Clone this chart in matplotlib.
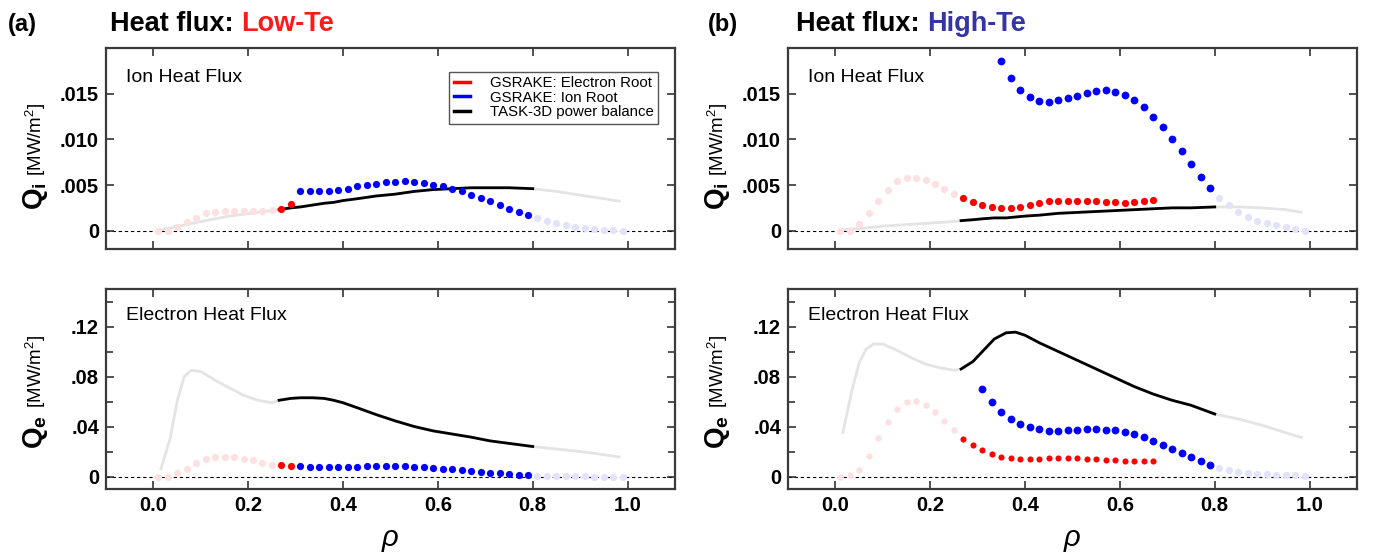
"""
plot.py
Heat flux comparison: GSRAKE roots vs TASK-3D power balance
"""

import matplotlib
matplotlib.use("Agg")
import matplotlib.pyplot as plt
from matplotlib.lines import Line2D
from matplotlib.ticker import FixedLocator, FuncFormatter
from matplotlib import font_manager

# Fonts
names = {f.name for f in font_manager.fontManager.ttflist}
NARROW = "Liberation Sans Narrow" if "Liberation Sans Narrow" in names else "Liberation Sans"
plt.rcParams["font.family"] = ["Liberation Sans", "DejaVu Sans"]
plt.rcParams["mathtext.fontset"] = "custom"
plt.rcParams["mathtext.rm"] = "Liberation Sans"
plt.rcParams["mathtext.bf"] = "Liberation Sans:bold"
plt.rcParams["mathtext.it"] = "Liberation Sans:italic"

# Colours
RED = "#ff0000"
BLUE = "#0000ff"
PINK_FADED = "#fde0e0"
BLUE_FADED = "#e2e2fb"
GREY = "#e4e4e4"

# ---- rho grid for GSRAKE points ----
RHO_CORE = [0.01, 0.03, 0.05, 0.07, 0.09, 0.11, 0.13, 0.15, 0.17, 0.19, 0.21, 0.23, 0.25]
RHO_EDGE = [0.81, 0.83, 0.85, 0.87, 0.89, 0.91, 0.93, 0.95, 0.97, 0.99]
RHO_A_EROOT = [0.27, 0.29]
RHO_A_IROOT = [0.31, 0.33, 0.35, 0.37, 0.39, 0.41, 0.43, 0.45, 0.47, 0.49, 0.51, 0.53,
               0.55, 0.57, 0.59, 0.61, 0.63, 0.65, 0.67, 0.69, 0.71, 0.73, 0.75, 0.77, 0.79]
RHO_B_EROOT = [0.27, 0.29, 0.31, 0.33, 0.35, 0.37, 0.39, 0.41, 0.43, 0.45, 0.47, 0.49,
               0.51, 0.53, 0.55, 0.57, 0.59, 0.61, 0.63, 0.65, 0.67]
RHO_B_IROOT_I = [0.35, 0.37, 0.39, 0.41, 0.43, 0.45, 0.47, 0.49, 0.51, 0.53, 0.55, 0.57,
                 0.59, 0.61, 0.63, 0.65, 0.67, 0.69, 0.71, 0.73, 0.75, 0.77, 0.79]
RHO_B_IROOT_E = [0.31, 0.33] + RHO_B_IROOT_I

# ---- (a) Low-Te, ion heat flux ----
QI_A_CORE = [0.0, 0.0, 0.0004, 0.0009, 0.0014, 0.0019, 0.0021, 0.0022, 0.0022, 0.0022,
             0.0022, 0.0022, 0.0023]
QI_A_EROOT = [0.0024, 0.0029]
QI_A_IROOT = [0.0044, 0.0043, 0.0043, 0.0043, 0.0045, 0.0046, 0.0049, 0.0050, 0.0051,
              0.0053, 0.0053, 0.0054, 0.0053, 0.0052, 0.0050, 0.0049, 0.0046, 0.0043,
              0.0039, 0.0036, 0.0032, 0.0028, 0.0024, 0.0021, 0.0017]
QI_A_EDGE = [0.0014, 0.0011, 0.0008, 0.0006, 0.0004, 0.0003, 0.0002, 0.0001, 0.0001, 0.0]

# ---- (a) Low-Te, electron heat flux ----
QE_A_CORE = [0.0, 0.0, 0.0027, 0.006, 0.011, 0.014, 0.016, 0.016, 0.0155, 0.014, 0.013,
             0.011, 0.0096]
QE_A_EROOT = [0.009, 0.0085]
QE_A_IROOT = [0.0083, 0.0077, 0.0075, 0.0075, 0.0077, 0.0077, 0.008, 0.0083, 0.0083,
              0.0085, 0.0083, 0.0083, 0.008, 0.0077, 0.007, 0.0064, 0.0059, 0.0053,
              0.0045, 0.004, 0.0032, 0.0027, 0.0021, 0.0016, 0.0011]
QE_A_EDGE = [0.0008, 0.0005, 0.0003, 0.0002, 0.0001, 0.0001, 0.0, 0.0, 0.0, 0.0]

# ---- (b) High-Te, ion heat flux ----
QI_B_CORE = [0.0, 0.0, 0.0007, 0.0019, 0.0033, 0.0045, 0.0054, 0.0058, 0.0058, 0.0056,
             0.0051, 0.0046, 0.0040]
QI_B_EROOT = [0.0036, 0.0031, 0.0028, 0.0026, 0.0025, 0.0025, 0.0026, 0.0028, 0.0030,
              0.0032, 0.0033, 0.0033, 0.0033, 0.0033, 0.0032, 0.0031, 0.0031, 0.0030,
              0.0031, 0.0032, 0.0034]
QI_B_IROOT = [0.0186, 0.0167, 0.0154, 0.0146, 0.0142, 0.0141, 0.0143, 0.0145, 0.0148,
              0.0151, 0.0153, 0.0154, 0.0152, 0.0149, 0.0143, 0.0135, 0.0125, 0.0113,
              0.0100, 0.0087, 0.0073, 0.0059, 0.0047]
QI_B_EDGE = [0.0036, 0.0028, 0.0020, 0.0015, 0.0011, 0.0008, 0.0006, 0.0004, 0.0002, 0.0]

# ---- (b) High-Te, electron heat flux ----
QE_B_CORE = [0.0, 0.0011, 0.0056, 0.0168, 0.0307, 0.0437, 0.0539, 0.0595, 0.0603,
             0.0576, 0.0515, 0.0448, 0.0373]
QE_B_EROOT = [0.0304, 0.0253, 0.0211, 0.0181, 0.016, 0.0149, 0.0144, 0.0144, 0.0144,
              0.0147, 0.0147, 0.0147, 0.0147, 0.0144, 0.0141, 0.0136, 0.0133, 0.0128,
              0.0125, 0.0123, 0.0125]
QE_B_IROOT = [0.0704, 0.060, 0.052, 0.0464, 0.0421, 0.0395, 0.0379, 0.0368, 0.0368,
              0.0373, 0.0376, 0.0379, 0.0379, 0.0376, 0.0371, 0.0357, 0.0341, 0.0317,
              0.0288, 0.0256, 0.0224, 0.0187, 0.0155, 0.0125, 0.0096]
QE_B_EDGE = [0.0072, 0.0053, 0.0037, 0.0027, 0.0021, 0.0019, 0.0016, 0.0013, 0.0011, 0.0005]

# ---- TASK-3D power balance profiles ----
LINE_RHO = [0.015, 0.035, 0.05, 0.065, 0.08, 0.1, 0.13, 0.16, 0.19, 0.22, 0.25, 0.265,
            0.29, 0.31, 0.335, 0.36, 0.38, 0.40, 0.43, 0.47, 0.51, 0.55, 0.59, 0.63,
            0.67, 0.71, 0.75, 0.80, 0.85, 0.90, 0.95, 0.985]
PB_QI_A = [0.0001, 0.0003, 0.0005, 0.0006, 0.0008, 0.0010, 0.0013, 0.0016, 0.0018, 0.0020,
           0.0022, 0.0023, 0.0025, 0.0026, 0.0028, 0.0030, 0.0031, 0.0033, 0.0035, 0.0038,
           0.0040, 0.0043, 0.0045, 0.0046, 0.0047, 0.0047, 0.0047, 0.0046, 0.0043, 0.0039,
           0.0035, 0.0032]
PB_QE_A = [0.005, 0.030, 0.060, 0.080, 0.085, 0.084, 0.077, 0.071, 0.065, 0.061, 0.059,
           0.061, 0.0625, 0.063, 0.063, 0.0625, 0.061, 0.059, 0.055, 0.0495, 0.0445, 0.040,
           0.0365, 0.034, 0.0315, 0.0285, 0.0265, 0.024, 0.022, 0.020, 0.0175, 0.0155]
PB_QI_B = [0.0001, 0.0002, 0.0002, 0.0003, 0.0004, 0.0005, 0.0006, 0.0007, 0.0008, 0.0009,
           0.0010, 0.0011, 0.0012, 0.0013, 0.0014, 0.0014, 0.0015, 0.0016, 0.0017, 0.0019,
           0.0020, 0.0021, 0.0022, 0.0023, 0.0024, 0.0025, 0.0025, 0.0026, 0.0026, 0.0025,
           0.0023, 0.0020]
PB_QE_B = [0.034, 0.069, 0.091, 0.102, 0.106, 0.106, 0.101, 0.095, 0.090, 0.087, 0.085,
           0.086, 0.092, 0.100, 0.110, 0.115, 0.1155, 0.113, 0.107, 0.100, 0.093, 0.086,
           0.079, 0.072, 0.066, 0.061, 0.057, 0.050, 0.046, 0.041, 0.035, 0.031]
PB_RANGE = (0.265, 0.80)

X_TICKS = [0.0, 0.2, 0.4, 0.6, 0.8, 1.0]
QI_TICKS = [0.0, 0.005, 0.010, 0.015]
QE_TICKS = [0.0, 0.04, 0.08, 0.12]
QE_MINOR = [0.02, 0.06, 0.10, 0.14]


def fmt_qi(v, pos):
    return "0" if abs(v) < 1e-9 else f"{v:.3f}".lstrip("0")


def fmt_qe(v, pos):
    return "0" if abs(v) < 1e-9 else f"{v:.2f}".lstrip("0")


def style_axes(ax, yticks, ylim, formatter, minor=None, xlabels=False):
    ax.set_xlim(-0.1, 1.1)
    ax.set_ylim(*ylim)
    ax.xaxis.set_major_locator(FixedLocator(X_TICKS))
    ax.yaxis.set_major_locator(FixedLocator(yticks))
    ax.yaxis.set_major_formatter(FuncFormatter(formatter))
    if minor:
        ax.yaxis.set_minor_locator(FixedLocator(minor))
    ax.tick_params(which="both", direction="in", top=True, right=True,
                   width=1.1, color="#222222", labelsize=14.5, pad=5)
    ax.tick_params(which="major", length=6)
    ax.tick_params(which="minor", length=5)
    ax.tick_params(axis="x", labelbottom=xlabels)
    for lab in ax.get_xticklabels() + ax.get_yticklabels():
        lab.set_fontweight("bold")
    for sp in ax.spines.values():
        sp.set_color("#3a3a3a")
        sp.set_linewidth(1.6)
    ax.axhline(0, color="black", lw=0.8, ls=(0, (3, 2.5)), zorder=1)


def draw_profile(ax, prof):
    ax.plot(LINE_RHO, prof, color=GREY, lw=2.0, zorder=2, solid_capstyle="butt")
    rr = [r for r in LINE_RHO if PB_RANGE[0] <= r <= PB_RANGE[1]]
    pp = [p for r, p in zip(LINE_RHO, prof) if PB_RANGE[0] <= r <= PB_RANGE[1]]
    ax.plot(rr, pp, color="black", lw=2.0, zorder=3)


def dots(ax, x, y, color, ms=5.2):
    ax.plot(x, y, "o", color=color, ms=ms, mec="none", zorder=4)


def q_label(ax, sub, y_join):
    ax.text(-0.112, y_join, rf"$\mathbf{{Q_{sub}}}$", rotation=90, rotation_mode="anchor",
            ha="right", va="baseline", fontsize=20, transform=ax.transAxes)
    ax.text(-0.112, y_join + 0.01, " [MW/m$^2$]", rotation=90, rotation_mode="anchor",
            ha="left", va="baseline", fontsize=13.5, transform=ax.transAxes)


def panel_title(fig, x_tag, x_text, word, color):
    fig.text(x_tag, 0.944, "(" + word[0] + ")", fontsize=17, fontweight="bold",
             family=NARROW, va="baseline")
    t = fig.text(x_text, 0.944, "Heat flux: ", fontsize=19.5, fontweight="bold",
                 family=NARROW, va="baseline")
    fig.canvas.draw()
    bb = t.get_window_extent(renderer=fig.canvas.get_renderer())
    x_end = bb.x1 / fig.bbox.width
    fig.text(x_end, 0.944, word[1], fontsize=19.5, fontweight="bold", color=color,
             family=NARROW, va="baseline")


def main():
    fig = plt.figure(figsize=(13.75, 5.52), dpi=100)

    w = 0.4138
    ax_ai = fig.add_axes([0.0771, 0.549, w, 0.364])
    ax_ae = fig.add_axes([0.0771, 0.1141, w, 0.3623])
    ax_bi = fig.add_axes([0.5731, 0.549, w, 0.364])
    ax_be = fig.add_axes([0.5731, 0.1141, w, 0.3623])

    # (a) ion
    draw_profile(ax_ai, PB_QI_A)
    dots(ax_ai, RHO_CORE, QI_A_CORE, PINK_FADED)
    dots(ax_ai, RHO_A_EROOT, QI_A_EROOT, RED)
    dots(ax_ai, RHO_A_IROOT, QI_A_IROOT, BLUE)
    dots(ax_ai, RHO_EDGE, QI_A_EDGE, BLUE_FADED)

    # (a) electron
    draw_profile(ax_ae, PB_QE_A)
    dots(ax_ae, RHO_CORE, QE_A_CORE, PINK_FADED)
    dots(ax_ae, RHO_A_EROOT, QE_A_EROOT, RED)
    dots(ax_ae, RHO_A_IROOT, QE_A_IROOT, BLUE)
    dots(ax_ae, RHO_EDGE, QE_A_EDGE, BLUE_FADED)

    # (b) ion
    draw_profile(ax_bi, PB_QI_B)
    dots(ax_bi, RHO_CORE, QI_B_CORE, PINK_FADED)
    dots(ax_bi, RHO_B_EROOT, QI_B_EROOT, RED)
    dots(ax_bi, RHO_B_IROOT_I, QI_B_IROOT, BLUE, ms=5.6)
    dots(ax_bi, RHO_EDGE, QI_B_EDGE, BLUE_FADED)

    # (b) electron
    draw_profile(ax_be, PB_QE_B)
    dots(ax_be, RHO_CORE, QE_B_CORE, PINK_FADED, ms=4.6)
    dots(ax_be, RHO_B_EROOT, QE_B_EROOT, RED, ms=4.4)
    dots(ax_be, RHO_B_IROOT_E, QE_B_IROOT, BLUE, ms=5.6)
    dots(ax_be, RHO_EDGE, QE_B_EDGE, BLUE_FADED)

    for ax in (ax_ai, ax_bi):
        style_axes(ax, QI_TICKS, (-0.002, 0.020), fmt_qi)
        ax.text(0.035, 0.83, "Ion Heat Flux", fontsize=14, transform=ax.transAxes,
                va="baseline")
        q_label(ax, "i", 0.33)
    for ax in (ax_ae, ax_be):
        style_axes(ax, QE_TICKS, (-0.01, 0.15), fmt_qe, minor=QE_MINOR, xlabels=True)
        ax.text(0.035, 0.845, "Electron Heat Flux", fontsize=14, transform=ax.transAxes,
                va="baseline")
        q_label(ax, "e", 0.37)
        ax.set_xlabel(r"$\rho$", fontsize=21, labelpad=8)

    handles = [Line2D([], [], color=RED, lw=2.5),
               Line2D([], [], color=BLUE, lw=2.5),
               Line2D([], [], color="black", lw=2.5)]
    labels = ["GSRAKE: Electron Root", "GSRAKE: Ion Root", "TASK-3D power balance"]
    leg = ax_ai.legend(handles, labels, loc="upper right", bbox_to_anchor=(0.97, 0.881),
                       borderaxespad=0, handlelength=1.1, handletextpad=1.3,
                       labelspacing=0.02, borderpad=0.3, fancybox=False, framealpha=1,
                       prop={"family": NARROW, "size": 10.8})
    leg.get_frame().set_edgecolor("#555555")
    leg.get_frame().set_linewidth(1.0)

    panel_title(fig, 0.006, 0.08, ("a", "Low-Te"), "#ff1a1a")
    panel_title(fig, 0.515, 0.579, ("b", "High-Te"), "#3434a4")

    fig.savefig("out.png", dpi=100)


if __name__ == "__main__":
    main()
